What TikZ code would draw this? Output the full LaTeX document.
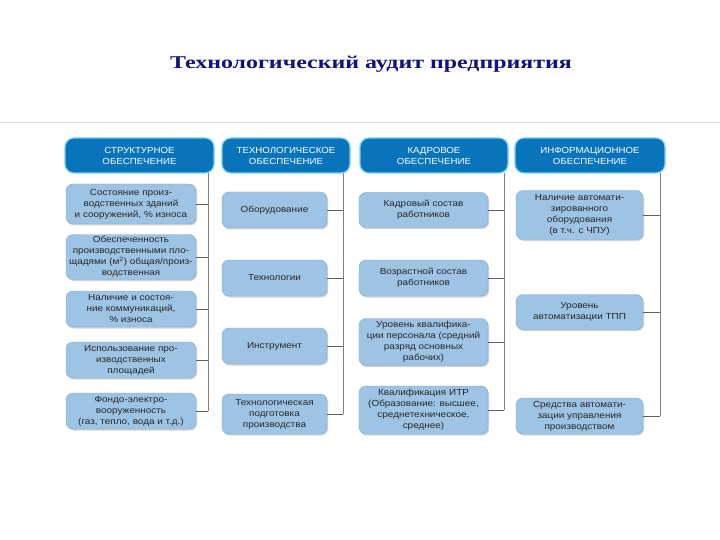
\documentclass[tikz,border=0pt]{standalone}
\usepackage{fontspec}
\setmainfont{Liberation Sans}
\newfontfamily\titlefont[FakeStretch=1.33]{Liberation Serif}
\newfontfamily\boxfont[FakeStretch=1.13]{Liberation Sans}
\newfontfamily\hdrfont[FakeStretch=1.1]{Liberation Sans}
\usetikzlibrary{shadows}
\definecolor{hdrblue}{RGB}{8,116,188}
\definecolor{hdrrim}{RGB}{120,208,242}
\definecolor{boxblue}{RGB}{158,196,229}
\definecolor{navy}{RGB}{18,18,125}
\definecolor{linegray}{RGB}{95,95,95}
\definecolor{sepgray}{RGB}{222,222,222}
\begin{document}
\begin{tikzpicture}[x=1pt,y=-1pt,
  hdr/.style={rectangle, rounded corners=9pt, fill=hdrblue, draw=hdrrim, line width=1.2pt,
    text=white, font=\hdrfont\fontsize{8.8}{11}\selectfont, align=center, inner sep=0pt,
    minimum height=35pt},
  itembox/.style={rectangle, rounded corners=7pt, fill=boxblue, draw=boxblue!85!black, line width=0.4pt,
    text=black!85, font=\boxfont\fontsize{8.8}{11}\selectfont, align=center, inner sep=0pt,
    drop shadow={opacity=0.35, shadow xshift=1.2pt, shadow yshift=-1.5pt}},
  conn/.style={draw=linegray, line width=0.7pt},
  vline/.style={draw=linegray!80, line width=0.7pt}
]
\useasboundingbox (0,0) rectangle (720,540);
\fill[white] (0,0) rectangle (720,540);

% title
\node[font=\titlefont\bfseries\fontsize{18}{21}\selectfont, text=navy] (title) at (371,64) {Технологический аудит предприятия};
\coordinate (sepL) at (0,122);
\coordinate (sepR) at (720,122);
\draw[sepgray, line width=0.8pt] (sepL) -- (sepR);

% headers
\node[hdr, minimum width=149pt] (h1) at (139.5,155.5) {СТРУКТУРНОЕ\\ОБЕСПЕЧЕНИЕ};
\node[hdr, minimum width=128pt] (h2) at (286,155.5) {ТЕХНОЛОГИЧЕСКОЕ\\ОБЕСПЕЧЕНИЕ};
\node[hdr, minimum width=148pt] (h3) at (434,155.5) {КАДРОВОЕ\\ОБЕСПЕЧЕНИЕ};
\node[hdr, minimum width=150pt] (h4) at (590,155.5) {ИНФОРМАЦИОННОЕ\\ОБЕСПЕЧЕНИЕ};

% column 1
\node[itembox, minimum width=130pt, minimum height=40pt] (c11) at (131,204) {Состояние произ-\\водственных зданий\\и сооружений, \% износа};
\node[itembox, minimum width=130pt, minimum height=45pt] (c12) at (131,257) {Обеспеченность\\производственными пло-\\щадями (м\textsuperscript{2}) общая/произ-\\водственная};
\node[itembox, minimum width=130pt, minimum height=36pt] (c13) at (131,309) {Наличие и состоя-\\ние коммуникаций,\\\% износа};
\node[itembox, minimum width=130pt, minimum height=36pt] (c14) at (131,360) {Использование про-\\изводственных\\площадей};
\node[itembox, minimum width=130pt, minimum height=36pt] (c15) at (131,411) {Фондо-электро-\\вооруженность\\(газ, тепло, вода и т.д.)};

% column 2
\node[itembox, minimum width=105pt, minimum height=36pt] (c21) at (274.5,210) {Оборудование};
\node[itembox, minimum width=105pt, minimum height=36pt] (c22) at (274.5,278) {Технологии};
\node[itembox, minimum width=105pt, minimum height=36pt] (c23) at (274.5,346) {Инструмент};
\node[itembox, minimum width=105pt, minimum height=40pt] (c24) at (274.5,414) {Технологическая\\подготовка\\производства};

% column 3
\node[itembox, minimum width=129pt, minimum height=35pt] (c31) at (423.5,210) {Кадровый состав\\работников};
\node[itembox, minimum width=129pt, minimum height=36pt] (c32) at (423.5,278) {Возрастной состав\\работников};
\node[itembox, minimum width=129pt, minimum height=47pt] (c33) at (423.5,342) {Уровень квалифика-\\ции персонала (средний\\разряд основных\\рабочих)};
\node[itembox, minimum width=129pt, minimum height=48pt] (c34) at (423.5,410) {Квалификация ИТР\\(Образование: высшее,\\среднетехническое,\\среднее)};

% column 4
\node[itembox, minimum width=127pt, minimum height=49pt] (c41) at (579.5,215) {Наличие автомати-\\зированного\\оборудования\\(в т.ч. с ЧПУ)};
\node[itembox, minimum width=127pt, minimum height=35pt] (c42) at (579.5,312) {Уровень\\автоматизации ТПП};
\node[itembox, minimum width=127pt, minimum height=36pt] (c43) at (579.5,416) {Средства автомати-\\зации управления\\производством};

% trunk coordinates
\coordinate (t1top) at (208,173);
\coordinate (t1bot) at (208,411);
\coordinate (t2top) at (343,173);
\coordinate (t2bot) at (343,414);
\coordinate (t3top) at (504,173);
\coordinate (t3bot) at (504,410);
\coordinate (t4top) at (660,173);
\coordinate (t4bot) at (660,416);

\draw[vline] (t1top) -- (t1bot);
\draw[vline] (t2top) -- (t2bot);
\draw[vline] (t3top) -- (t3bot);
\draw[vline] (t4top) -- (t4bot);

\foreach \n/\t in {c11/t1top,c12/t1top,c13/t1top,c14/t1top,c15/t1top,
                   c21/t2top,c22/t2top,c23/t2top,c24/t2top,
                   c31/t3top,c32/t3top,c33/t3top,c34/t3top,
                   c41/t4top,c42/t4top,c43/t4top}
  \draw[conn] (\n.east) -- (\n.east -| \t);
\end{tikzpicture}
\end{document}
